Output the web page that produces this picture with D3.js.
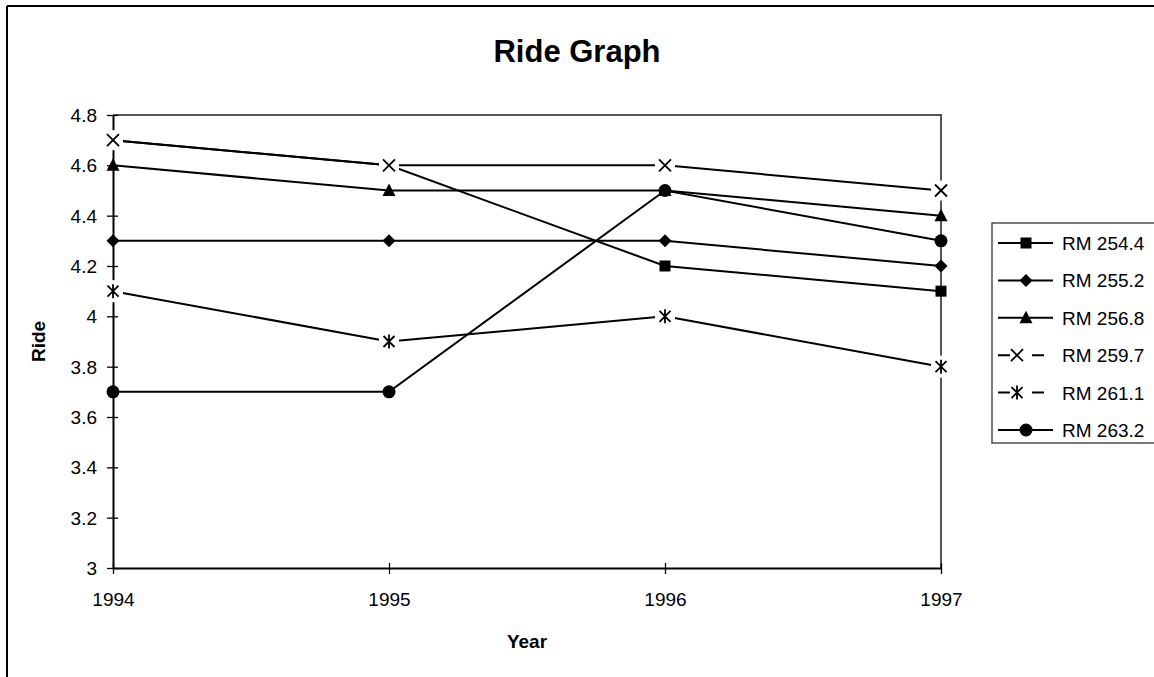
<!DOCTYPE html>
<html><head><meta charset="utf-8">
<script src="https://cdn.jsdelivr.net/npm/d3@7"></script>
<style>body{margin:0;background:#fff}svg{display:block;font-family:"Liberation Sans",Arial,sans-serif}</style>
</head><body><svg id="c" width="1154" height="677"></svg>
<script>
const years = [1994, 1995, 1996, 1997];
const yTicks = [3, 3.2, 3.4, 3.6, 3.8, 4, 4.2, 4.4, 4.6, 4.8];
const yTickLabels = ["3", "3.2", "3.4", "3.6", "3.8", "4", "4.2", "4.4", "4.6", "4.8"];
const seriesNames = ["RM 254.4", "RM 255.2", "RM 256.8", "RM 259.7", "RM 261.1", "RM 263.2"];
const seriesMarkers = ["square", "diamond", "triangle", "x", "star", "circle"];
const rm2544 = [4.7, 4.6, 4.2, 4.1];
const rm2552 = [4.3, 4.3, 4.3, 4.2];
const rm2568 = [4.6, 4.5, 4.5, 4.4];
const rm2597 = [4.7, 4.6, 4.6, 4.5];
const rm2611 = [4.1, 3.9, 4.0, 3.8];
const rm2632 = [3.7, 3.7, 4.5, 4.3];
const seriesValues = [rm2544, rm2552, rm2568, rm2597, rm2611, rm2632];

const svg = d3.select("#c");
const L = 113, R = 941, T = 115, B = 568;
const x = d3.scalePoint().domain(years).range([L, R]);
const y = d3.scaleLinear().domain([3, 4.8]).range([B, T]);

// outer chart border
svg.append("line").attr("x1", 7).attr("x2", 1154).attr("y1", 6).attr("y2", 6).attr("stroke", "#000").attr("stroke-width", 2);
svg.append("line").attr("x1", 7).attr("x2", 7).attr("y1", 6).attr("y2", 677).attr("stroke", "#000").attr("stroke-width", 2);

// plot area border (top & right)
svg.append("path").attr("d", `M${L},${T}H${R}V${B}`).attr("fill", "none").attr("stroke", "#555").attr("stroke-width", 2);

// title
svg.append("text").attr("x", 577).attr("y", 62).attr("text-anchor", "middle")
  .attr("font-size", 31).attr("font-weight", "bold").text("Ride Graph");

// axes
const yAxis = d3.axisLeft(y).tickValues(yTicks).tickFormat((d, i) => yTickLabels[i]).tickSizeOuter(0).tickSizeInner(6).tickPadding(10);
const gy = svg.append("g").attr("transform", `translate(${L},0)`).call(yAxis);
gy.select(".domain").attr("stroke", "#000").attr("stroke-width", 2);
gy.selectAll(".tick line").attr("x2", -6).attr("x1", 5).attr("stroke", "#000").attr("stroke-width", 1.3);
gy.selectAll(".tick text").attr("font-size", 19).attr("font-family", "Liberation Sans, Arial, sans-serif").attr("fill", "#000").attr("dy", "0.35em");

const xAxis = d3.axisBottom(x).tickSizeOuter(0).tickSizeInner(6).tickPadding(19).tickFormat(d3.format("d"));
const gx = svg.append("g").attr("transform", `translate(0,${B})`).call(xAxis);
gx.select(".domain").attr("stroke", "#000").attr("stroke-width", 2);
gx.selectAll(".tick line").attr("y1", -5).attr("y2", 6).attr("stroke", "#000").attr("stroke-width", 1.3);
gx.selectAll(".tick text").attr("font-size", 19).attr("font-family", "Liberation Sans, Arial, sans-serif").attr("fill", "#000");

// axis titles
svg.append("text").attr("x", 527).attr("y", 648).attr("text-anchor", "middle").attr("font-size", 19).attr("font-weight", "bold").text("Year");
svg.append("text").attr("transform", `translate(45,${(T + B) / 2}) rotate(-90)`).attr("text-anchor", "middle").attr("font-size", 19).attr("font-weight", "bold").text("Ride");

function drawMarker(g, type, cx, cy, bg) {
  const m = g.append("g").attr("transform", `translate(${cx},${cy})`);
  const b = bg || [-10, 10];
  if (type === "square") {
    m.append("rect").attr("x", -5.5).attr("y", -5.5).attr("width", 11).attr("height", 11).attr("fill", "#000");
  } else if (type === "diamond") {
    m.append("path").attr("d", "M0,-6.5L6.5,0L0,6.5L-6.5,0Z").attr("fill", "#000");
  } else if (type === "triangle") {
    m.append("path").attr("d", "M0,-7L6.5,5.5L-6.5,5.5Z").attr("fill", "#000");
  } else if (type === "circle") {
    m.append("circle").attr("r", 6.5).attr("fill", "#000");
  } else if (type === "x") {
    m.append("rect").attr("x", b[0]).attr("y", -10).attr("width", b[1] - b[0]).attr("height", 20).attr("fill", "#fff");
    m.append("path").attr("d", "M-6,-6L6,6M6,-6L-6,6").attr("stroke", "#000").attr("stroke-width", 1.8).attr("fill", "none");
  } else if (type === "star") {
    m.append("rect").attr("x", b[0]).attr("y", -11).attr("width", b[1] - b[0]).attr("height", 22).attr("fill", "#fff");
    m.append("path").attr("d", "M-5.5,-5.5L5.5,5.5M5.5,-5.5L-5.5,5.5M0,-7V7").attr("stroke", "#000").attr("stroke-width", 1.8).attr("fill", "none");
  }
}

const line = d3.line().x((d, i) => x(years[i])).y(d => y(d));
const plot = svg.append("g");
seriesValues.forEach((vals, si) => {
  plot.append("path").datum(vals).attr("d", line).attr("fill", "none").attr("stroke", "#000").attr("stroke-width", 2);
  vals.forEach((v, i) => drawMarker(plot, seriesMarkers[si], x(years[i]), y(v)));
});

// legend
const lg = svg.append("g");
lg.append("rect").attr("x", 992).attr("y", 223).attr("width", 180).attr("height", 220).attr("fill", "#fff").attr("stroke", "#333").attr("stroke-width", 1.3);
const rowY = d3.scalePoint().domain(seriesNames).range([243, 430]);
seriesNames.forEach((name, si) => {
  const ry = rowY(name);
  const hollow = seriesMarkers[si] === "x" || seriesMarkers[si] === "star";
  lg.append("line").attr("x1", 998).attr("x2", hollow ? 1044 : 1053).attr("y1", ry).attr("y2", ry).attr("stroke", "#000").attr("stroke-width", 2);
  drawMarker(lg, seriesMarkers[si], hollow ? 1017 : 1026, ry, [-7, 15]);
  lg.append("text").attr("x", 1062).attr("y", ry + 7).attr("font-size", 19).text(name);
});
</script></body></html>
